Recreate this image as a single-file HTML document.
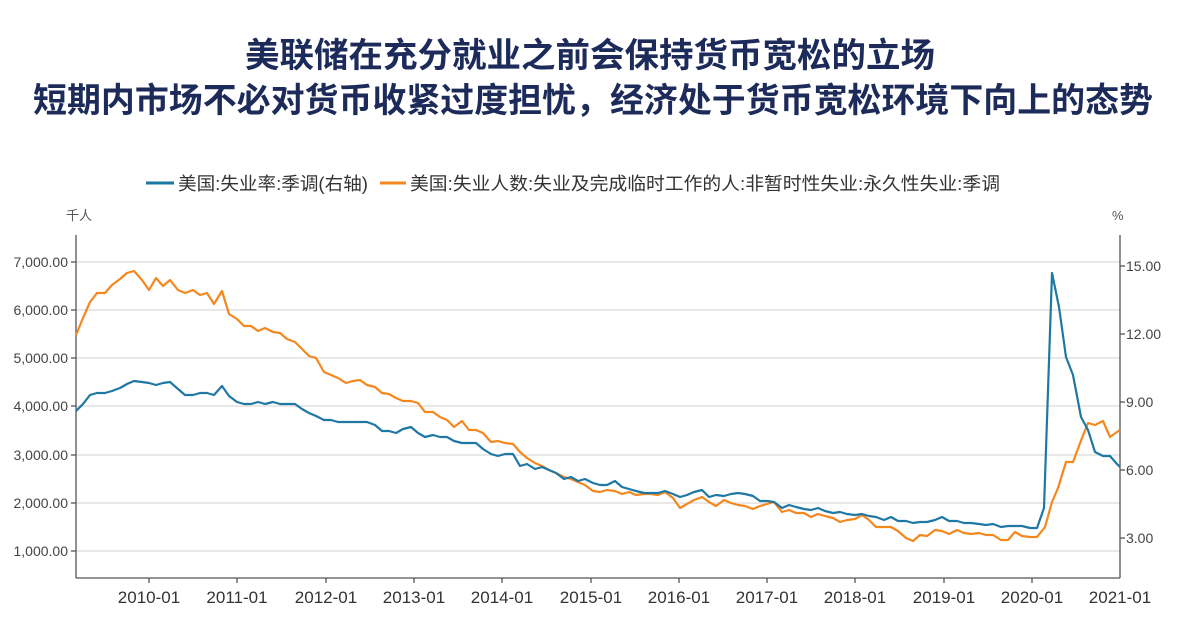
<!DOCTYPE html>
<html><head><meta charset="utf-8"><style>
body{margin:0;background:#fff;width:1178px;height:639px;overflow:hidden;font-family:"Liberation Sans","Noto Sans CJK SC",sans-serif;}
</style></head><body>
<svg width="1178" height="639" xmlns="http://www.w3.org/2000/svg" font-family="Liberation Sans, Noto Sans CJK SC, sans-serif">
<text x="590" y="67" text-anchor="middle" font-size="34" font-weight="bold" fill="#1c2b5a" textLength="690" lengthAdjust="spacingAndGlyphs">美联储在充分就业之前会保持货币宽松的立场</text>
<text x="593" y="112" text-anchor="middle" font-size="34" font-weight="bold" fill="#1c2b5a" textLength="1120" lengthAdjust="spacingAndGlyphs">短期内市场不必对货币收紧过度担忧，经济处于货币宽松环境下向上的态势</text>
<line x1="146" y1="183" x2="174" y2="183" stroke="#1f77a4" stroke-width="3"/>
<text x="178" y="190" font-size="18" fill="#333" textLength="190" lengthAdjust="spacingAndGlyphs">美国:失业率:季调(右轴)</text>
<line x1="380" y1="183" x2="406" y2="183" stroke="#f5871f" stroke-width="3"/>
<text x="410" y="190" font-size="18" fill="#333" textLength="590" lengthAdjust="spacingAndGlyphs">美国:失业人数:失业及完成临时工作的人:非暂时性失业:永久性失业:季调</text>
<text x="66" y="220" font-size="13" fill="#555">千人</text>
<text x="1112" y="220" font-size="13" fill="#555">%</text>
<g stroke="#e0e0e0" stroke-width="1.5">
<line x1="76" y1="262" x2="1120" y2="262"/><line x1="76" y1="310" x2="1120" y2="310"/><line x1="76" y1="358" x2="1120" y2="358"/><line x1="76" y1="406" x2="1120" y2="406"/><line x1="76" y1="455" x2="1120" y2="455"/><line x1="76" y1="503" x2="1120" y2="503"/><line x1="76" y1="551" x2="1120" y2="551"/>
</g>
<g stroke="#555" stroke-width="1.3">
<line x1="76" y1="235" x2="76" y2="578"/><line x1="1120" y1="235" x2="1120" y2="578"/><line x1="76" y1="578" x2="1120" y2="578"/>
<line x1="71" y1="262" x2="76" y2="262"/><line x1="71" y1="310" x2="76" y2="310"/><line x1="71" y1="358" x2="76" y2="358"/><line x1="71" y1="406" x2="76" y2="406"/><line x1="71" y1="455" x2="76" y2="455"/><line x1="71" y1="503" x2="76" y2="503"/><line x1="71" y1="551" x2="76" y2="551"/>
<line x1="1120" y1="266" x2="1125" y2="266"/><line x1="1120" y1="334" x2="1125" y2="334"/><line x1="1120" y1="402" x2="1125" y2="402"/><line x1="1120" y1="470" x2="1125" y2="470"/><line x1="1120" y1="538" x2="1125" y2="538"/>
<line x1="149" y1="578" x2="149" y2="583"/><line x1="237" y1="578" x2="237" y2="583"/><line x1="326" y1="578" x2="326" y2="583"/><line x1="414" y1="578" x2="414" y2="583"/><line x1="502" y1="578" x2="502" y2="583"/><line x1="591" y1="578" x2="591" y2="583"/><line x1="679" y1="578" x2="679" y2="583"/><line x1="767" y1="578" x2="767" y2="583"/><line x1="855" y1="578" x2="855" y2="583"/><line x1="944" y1="578" x2="944" y2="583"/><line x1="1032" y1="578" x2="1032" y2="583"/>
</g>
<g font-size="14" fill="#444" text-anchor="end">
<text x="68" y="267">7,000.00</text><text x="68" y="315">6,000.00</text><text x="68" y="363">5,000.00</text><text x="68" y="411">4,000.00</text><text x="68" y="460">3,000.00</text><text x="68" y="508">2,000.00</text><text x="68" y="556">1,000.00</text>
</g>
<g font-size="14" fill="#444">
<text x="1126" y="271">15.00</text><text x="1126" y="339">12.00</text><text x="1126" y="407">9.00</text><text x="1126" y="475">6.00</text><text x="1126" y="543">3.00</text>
</g>
<g font-size="17" fill="#333" text-anchor="middle">
<text x="149" y="603">2010-01</text><text x="237" y="603">2011-01</text><text x="326" y="603">2012-01</text><text x="414" y="603">2013-01</text><text x="502" y="603">2014-01</text><text x="591" y="603">2015-01</text><text x="679" y="603">2016-01</text><text x="767" y="603">2017-01</text><text x="855" y="603">2018-01</text><text x="944" y="603">2019-01</text><text x="1032" y="603">2020-01</text><text x="1120" y="603">2021-01</text>
</g>
<polyline fill="none" stroke="#f5871f" stroke-width="2.2" stroke-linejoin="round" points="76,335 83,318 90,302 97,293 105,293 112,285 120,279 127,273 134,271 142,280 149,290 156,278 163,286 170,280 178,290 185,293 193,290 200,295 207,293 214,304 222,291 229,314 237,319 244,326 251,326 258,331 265,328 273,332 280,333 287,339 295,342 302,349 309,356 316,358 324,372 331,375 338,378 346,383 353,381 360,380 367,385 375,387 382,393 389,394 396,398 403,401 411,401 418,403 425,412 433,412 440,417 447,420 454,427 462,421 469,430 476,430 483,433 491,442 498,441 505,443 513,444 520,452 527,458 535,463 542,466 549,470 556,473 564,477 571,479 578,482 585,485 593,491 600,492 607,490 615,491 622,494 629,492 636,495 644,494 651,494 658,495 665,492 673,498 680,508 687,504 694,500 702,497 709,502 716,506 724,500 731,503 738,505 745,506 753,509 760,506 767,504 774,502 782,512 789,510 796,513 804,513 811,517 818,514 825,516 833,518 840,522 847,520 855,519 862,515 869,520 876,527 884,527 891,527 898,531 906,538 913,541 920,535 927,536 935,530 942,531 949,534 957,530 964,533 971,534 979,533 986,535 993,535 1001,540 1008,540 1015,532 1022,536 1030,537 1037,537 1045,527 1052,502 1058,488 1066,462 1073,462 1082,438 1088,423 1095,425 1103,421 1110,437 1117,432 1120,430"/>
<polyline fill="none" stroke="#1f77a4" stroke-width="2.2" stroke-linejoin="round" points="76,411 83,404 90,395 97,393 105,393 112,391 120,388 127,384 134,381 142,382 149,383 156,385 163,383 170,382 178,389 185,395 193,395 200,393 207,393 214,395 222,386 229,396 237,402 244,404 251,404 258,402 265,404 273,402 280,404 287,404 295,404 302,409 309,413 316,416 324,420 331,420 338,422 346,422 353,422 360,422 367,422 375,425 382,431 389,431 396,433 403,429 411,427 418,433 425,437 433,435 440,437 447,437 454,441 462,443 469,443 476,443 483,449 491,454 498,456 505,454 513,454 520,466 527,464 535,469 542,467 549,470 556,473 564,479 571,477 578,481 585,479 593,483 600,485 607,485 615,481 622,487 629,489 636,491 644,493 651,493 658,493 665,491 673,494 680,497 687,495 694,492 702,490 709,497 716,495 724,496 731,494 738,493 745,494 753,496 760,501 767,501 774,502 782,508 789,505 796,507 804,509 811,510 818,508 825,511 833,513 840,512 847,514 855,515 862,514 869,516 876,517 884,520 891,517 898,521 906,521 913,523 920,522 927,522 935,520 942,517 949,521 957,521 964,523 971,523 979,524 986,525 993,524 1001,527 1008,526 1015,526 1022,526 1030,528 1037,528 1044,508 1052,273 1059,307 1066,357 1073,375 1081,417 1088,430 1095,452 1103,456 1110,456 1117,464 1120,467"/>
</svg>
</body></html>
